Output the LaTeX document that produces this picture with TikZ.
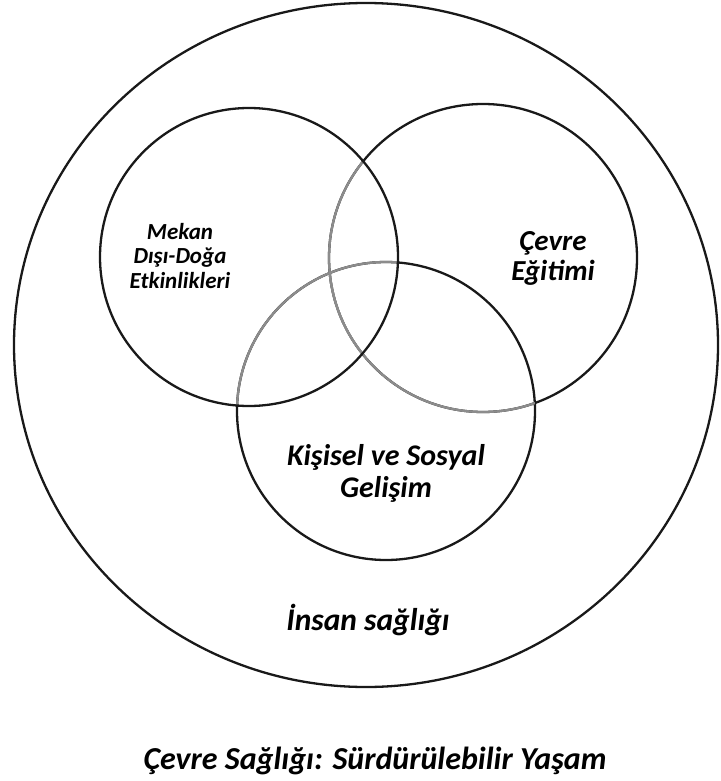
\documentclass[tikz,border=0pt]{standalone}
\usepackage{fontspec}
\setmainfont{Carlito}
\begin{document}
\begin{tikzpicture}[x=1pt,y=-1pt,
  ring/.style={line width=2.3pt,draw=black!90},
  faint/.style={line width=2.3pt,draw=black!45},
  lbl/.style={align=center,inner sep=0pt}]
\useasboundingbox (0,0) rectangle (720,781);
% outer circle
\draw[ring] (366,345) ellipse [x radius=352, y radius=342];
% three circles
\coordinate (cL) at (249,257);
\coordinate (cR) at (483,258);
\coordinate (cB) at (386,411);
\draw[ring] (cR) circle [radius=154];
\draw[ring] (cB) circle [radius=149];
\begin{scope}
  \clip (cL) circle [radius=149];
  \draw[faint] (cR) circle [radius=154];
  \draw[faint] (cB) circle [radius=149];
\end{scope}
\begin{scope}
  \clip (cB) circle [radius=149];
  \draw[faint] (cR) circle [radius=154];
\end{scope}
\draw[ring] (cL) circle [radius=149];
% labels
\node[lbl,font=\fontsize{23}{24.5}\selectfont\bfseries\itshape] (tL) at (180,256) {Mekan\\Dışı-Doğa\\Etkinlikleri};
\node[lbl,font=\fontsize{29}{30}\selectfont\bfseries\itshape] (tR) at (553,258) {Çevre\\Eğitimi};
\node[lbl,font=\fontsize{30}{32}\selectfont\bfseries\itshape] (tB) at (386,473) {Kişisel ve Sosyal\\Gelişim};
\node[lbl,font=\fontsize{31.5}{34}\selectfont\bfseries\itshape] (tH) at (368,620) {İnsan sağlığı};
\node[lbl,font=\fontsize{32}{36}\selectfont\bfseries\itshape] (tT) at (375,761) {Çevre Sağlığı: Sürdürülebilir Yaşam};
\end{tikzpicture}
\end{document}
